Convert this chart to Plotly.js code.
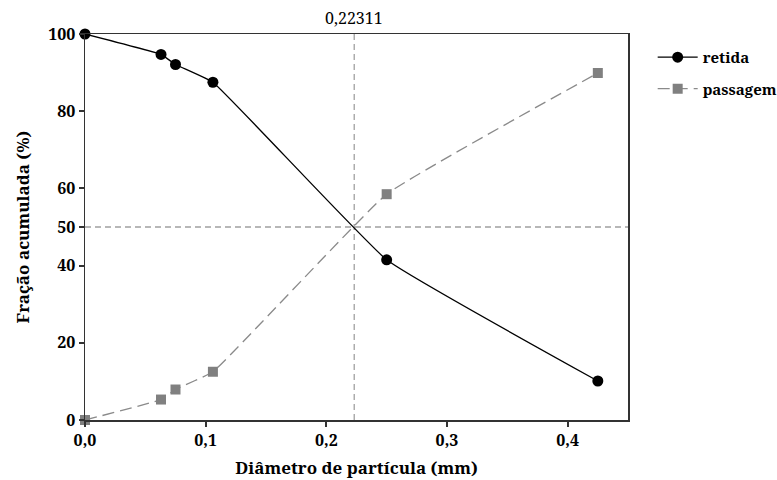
<!DOCTYPE html>
<html>
<head>
<meta charset="utf-8">
<script src="https://cdn.plot.ly/plotly-3.0.1.min.js"></script>
<style>html,body{margin:0;padding:0;background:#fff}#chart{width:777px;height:480px}</style>
</head>
<body>
<div id="chart"></div>
<script>
const diametro = [0, 0.063, 0.075, 0.106, 0.25, 0.425];
const retida = [100, 94.7, 92.1, 87.5, 41.5, 10.1];
const passagem = [0, 5.3, 7.9, 12.5, 58.5, 89.9];
const d50 = 0.22311;
const d50Label = "0,22311";
const yTicks = [0, 20, 40, 50, 60, 80, 100];
const xTicks = [0, 0.1, 0.2, 0.3, 0.4];

const serif = "Noto Serif, DejaVu Serif, serif";

const traces = [
  {
    x: diametro, y: retida, name: "retida", type: "scatter", mode: "lines+markers",
    legendgroup: "a", cliponaxis: false,
    line: {color: "#000000", width: 1.3, shape: "spline", smoothing: 0.3},
    marker: {symbol: "circle", size: 11, color: "#000000"}
  },
  {
    x: diametro, y: passagem, name: "passagem", type: "scatter", mode: "lines+markers",
    legendgroup: "b", cliponaxis: false,
    line: {color: "#8a8a8a", width: 1.3, dash: "12px,6px", shape: "spline", smoothing: 0.3},
    marker: {symbol: "square", size: 10, color: "#808080"}
  }
];

const layout = {
  width: 777, height: 480,
  margin: {l: 85, r: 149, t: 34, b: 60, autoexpand: false},
  paper_bgcolor: "#ffffff", plot_bgcolor: "#ffffff",
  separators: ",.",
  font: {family: serif, color: "#000000", size: 15},
  showlegend: true,
  legend: {
    xref: "container", x: 0.84, y: 0.982, xanchor: "left", yanchor: "top",
    font: {family: serif, size: 15, color: "#000", weight: "bold"},
    tracegroupgap: 9, itemwidth: 40, bgcolor: "rgba(0,0,0,0)"
  },
  xaxis: {
    range: [0, 0.45], tickvals: xTicks, tickformat: ".1f",
    showgrid: false, zeroline: false,
    showline: true, linecolor: "#333", linewidth: 1.5, mirror: true,
    ticks: "outside", ticklen: 5, tickwidth: 2, tickcolor: "#333",
    tickfont: {family: serif, size: 16, weight: "bold"},
    title: {text: "Diâmetro de partícula (mm)", font: {family: serif, size: 17, weight: "bold"}, standoff: 12}
  },
  yaxis: {
    range: [0, 100], tickvals: yTicks,
    showgrid: false, zeroline: false,
    showline: true, linecolor: "#333", linewidth: 1.5, mirror: true,
    ticks: "outside", ticklen: 5, tickwidth: 2, tickcolor: "#333",
    tickfont: {family: serif, size: 16, weight: "bold"},
    title: {text: "Fração acumulada (%)", font: {family: serif, size: 17, weight: "bold"}, standoff: 14}
  },
  shapes: [
    {type: "line", xref: "x", yref: "paper", x0: d50, x1: d50, y0: 0, y1: 1,
     line: {color: "#a0a0a0", width: 1.3, dash: "6px,4px"}, layer: "below"},
    {type: "line", xref: "paper", yref: "y", x0: 0, x1: 1, y0: 50, y1: 50,
     line: {color: "#a0a0a0", width: 1.3, dash: "6px,4px"}, layer: "below"}
  ],
  annotations: [
    {x: d50, xref: "x", y: 1, yref: "paper", yanchor: "bottom", xanchor: "center",
     text: d50Label, showarrow: false, yshift: 3,
     font: {family: serif, size: 16, color: "#000"}}
  ]
};

Plotly.newPlot("chart", traces, layout, {displayModeBar: false, staticPlot: true});
</script>
</body>
</html>
